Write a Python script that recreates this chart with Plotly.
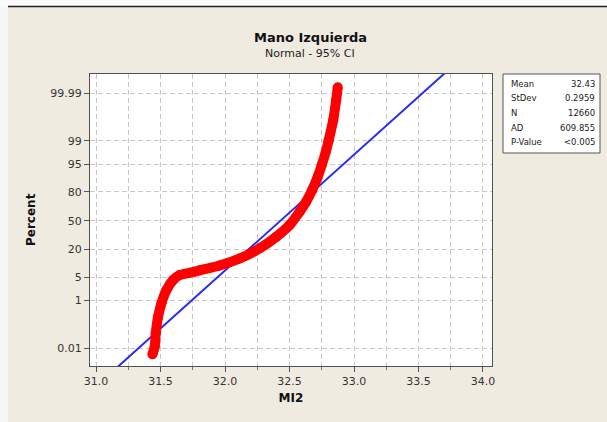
import plotly.graph_objects as go
from statistics import NormalDist

# ---------------- data ----------------
mi2_values = [31.437, 31.455, 31.463, 31.481, 31.507, 31.546, 31.597, 31.649,
              31.726, 31.804, 31.959, 32.114, 32.269, 32.398, 32.501, 32.579,
              32.629, 32.676, 32.719, 32.750, 32.781, 32.804, 32.839, 32.862, 32.874]
percent_values = [0.0048, 0.0118, 0.051, 0.254, 0.80, 2.15, 4.17, 5.65,
                  6.41, 7.38, 9.55, 13.5, 21.0, 32.0, 45.0, 60.4,
                  71.0, 81.5, 90.0, 94.8, 97.75, 99.07, 99.835, 99.9787, 99.995]

y_tick_percent = [0.01, 1, 5, 20, 50, 80, 95, 99, 99.99]
y_tick_labels = ["0.01", "1", "5", "20", "50", "80", "95", "99", "99.99"]

stat_names = ["Mean", "StDev", "N", "AD", "P-Value"]
stat_values = ["32.43", "0.2959", "12660", "609.855", "<0.005"]
fit_mean = 32.43
fit_sd = 0.2959

title_text = "Mano Izquierda"
subtitle_text = "Normal - 95% CI"
x_label = "MI2"
y_label = "Percent"

# ---------------- scale helpers ----------------
nd = NormalDist()
def prob_scale(p):
    return nd.inv_cdf(p / 100.0)

W, H = 607, 422
L, R, T, B = 90, 492, 74, 366  # plot area pixel bounds
def px2x(px):
    return (px - L) / (R - L)
def py2y(py):
    return (B - py) / (B - T)

FONT = "DejaVu Sans"
BG = "#F0EBE1"

fig = go.Figure()

# fitted line
z_ends = [-4.6, 4.6]
fig.add_trace(go.Scatter(
    x=[fit_mean + fit_sd * z for z in z_ends], y=z_ends,
    mode="lines", line=dict(color="#2A2AF5", width=2),
    hoverinfo="skip", showlegend=False))

# data
fig.add_trace(go.Scatter(
    x=mi2_values, y=[prob_scale(p) for p in percent_values],
    mode="lines+markers",
    line=dict(color="#FF0000", width=10, shape="spline", smoothing=0.5),
    marker=dict(color="#FF0000", size=10),
    showlegend=False))

fig.update_xaxes(
    range=[30.953, 34.07], tickvals=[31.0, 31.5, 32.0, 32.5, 33.0, 33.5, 34.0],
    ticktext=["31.0", "31.5", "32.0", "32.5", "33.0", "33.5", "34.0"],
    ticks="outside", ticklen=5, tickcolor="#555", tickwidth=1,
    showgrid=True, gridcolor="#C8C8C8", griddash="5px,3px", gridwidth=1,
    minor=dict(dtick=0.25, tick0=31.0, showgrid=True, gridcolor="#C8C8C8",
               griddash="5px,3px", ticks="outside", ticklen=3, tickcolor="#777"),
    showline=True, linecolor="#505050", linewidth=1, mirror=True,
    zeroline=False,
    tickfont=dict(family=FONT, size=11, color="#333"),
    title=dict(text="<b>%s</b>" % x_label, font=dict(family=FONT, size=12, color="#111"),
               standoff=6),
)
fig.update_yaxes(
    range=[-4.24, 4.28],
    tickvals=[prob_scale(p) for p in y_tick_percent], ticktext=y_tick_labels,
    ticks="outside", ticklen=5, tickcolor="#555", tickwidth=1,
    showgrid=True, gridcolor="#C8C8C8", griddash="5px,3px", gridwidth=1,
    showline=True, linecolor="#505050", linewidth=1, mirror=True,
    zeroline=False,
    tickfont=dict(family=FONT, size=11, color="#333"),
)

annotations = [
    dict(text="<b>%s</b>" % title_text, x=px2x(310), y=py2y(37), xref="paper", yref="paper",
         showarrow=False, xanchor="center", yanchor="middle",
         font=dict(family=FONT, size=13, color="#111")),
    dict(text=subtitle_text, x=px2x(310), y=py2y(54), xref="paper", yref="paper",
         showarrow=False, xanchor="center", yanchor="middle",
         font=dict(family=FONT, size=11, color="#222")),
    dict(text="<b>%s</b>" % y_label, x=px2x(31), y=py2y(220), xref="paper", yref="paper",
         showarrow=False, xanchor="center", yanchor="middle", textangle=-90,
         font=dict(family=FONT, size=12, color="#111")),
]
row_y = [84, 98.5, 113, 127.5, 142]
for name, val, ry in zip(stat_names, stat_values, row_y):
    annotations.append(dict(text=name, x=px2x(509), y=py2y(ry), xref="paper", yref="paper",
                            showarrow=False, xanchor="left", yanchor="middle",
                            font=dict(family=FONT, size=8.5, color="#222")))
    annotations.append(dict(text=val, x=px2x(597), y=py2y(ry), xref="paper", yref="paper",
                            showarrow=False, xanchor="right", yanchor="middle",
                            font=dict(family=FONT, size=8.5, color="#222")))

shapes = [
    # top white strip and dark line
    dict(type="rect", xref="paper", yref="paper", x0=px2x(0), x1=px2x(W), y0=py2y(0), y1=py2y(6),
         fillcolor="#FAFAFA", line=dict(width=0), layer="below"),
    dict(type="rect", xref="paper", yref="paper", x0=px2x(0), x1=px2x(8), y0=py2y(6), y1=py2y(H),
         fillcolor="#F6F6F4", line=dict(width=0), layer="below"),
    dict(type="line", xref="paper", yref="paper", x0=px2x(8), x1=px2x(W), y0=py2y(6.5), y1=py2y(6.5),
         line=dict(color="#1E1E1E", width=1.5)),
    # stats box
    dict(type="rect", xref="paper", yref="paper", x0=px2x(503), x1=px2x(600), y0=py2y(74), y1=py2y(153),
         fillcolor="white", line=dict(color="#555", width=1), layer="below"),
]

fig.update_layout(
    width=W, height=H,
    margin=dict(l=L, r=W - R, t=T, b=H - B, pad=0),
    paper_bgcolor=BG, plot_bgcolor="white",
    annotations=annotations, shapes=shapes,
    showlegend=False,
)

fig.write_html("out.html", config={"displayModeBar": False},
               post_script="document.body.style.margin='0';document.body.style.padding='0';document.body.style.background='%s';" % BG)
